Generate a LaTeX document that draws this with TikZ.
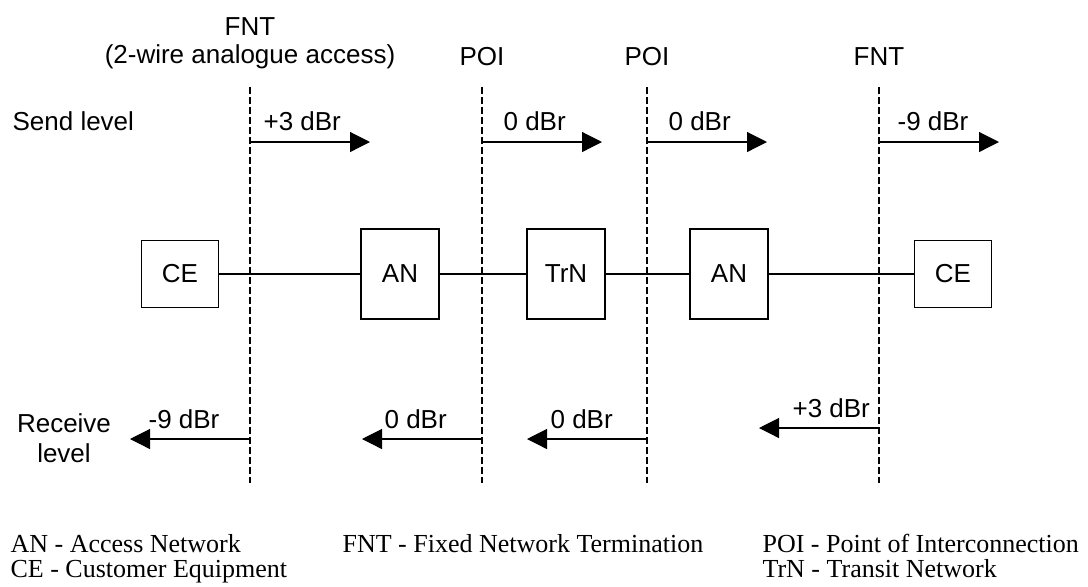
\documentclass[tikz,border=0pt]{standalone}
\usepackage{fontspec}
\setmainfont{Liberation Serif}
\newfontfamily\arialfont{Liberation Sans}
\usetikzlibrary{arrows.meta}

\begin{document}
\begin{tikzpicture}[x=0.5pt,y=-0.5pt,semithick,font=\arialfont\fontsize{13}{14}\selectfont,
  box/.style={draw,minimum width=39pt,minimum height=45pt,inner sep=0pt},
  cebox/.style={box,minimum width=38.5pt,minimum height=33.5pt},
  lbl/.style={inner sep=0pt,anchor=base west},
  ttl/.style={inner sep=0pt,anchor=base,align=center},
  lvl/.style={-{Triangle[length=10pt,width=10pt]}},
  refline/.style={dash pattern=on 3.5pt off 1.5pt},
  legend/.style={lbl,font=\rmfamily\fontsize{13}{14}\selectfont}]
\useasboundingbox (0,0) rectangle (1088,586);
\node[cebox](CEa)at(180,274){CE};
\node[box](ANa)at(400,274){AN};
\node[box](TrN)at(566,274){TrN};
\node[box](ANb)at(729,274){AN};
\node[cebox](CEb)at(953,274){CE};
\draw(CEa)--(ANa)--(TrN)--(ANb)--(CEb);

\foreach \n/\x/\y in {Fa/250/439,Pa/482/439,Pb/647/439,Fb/879/428}{
  \coordinate(\n t)at(\x,87);
  \coordinate(\n b)at(\x,483);
  \coordinate(\n s)at(\x,142);
  \coordinate(\n S)at(\x+120,142);
  \coordinate(\n r)at(\x,\y);
  \coordinate(\n R)at(\x-120,\y);
  \draw[refline](\n t)--(\n b);
  \draw[lvl](\n s)--(\n S);
  \draw[lvl](\n r)--(\n R);
}

\node[ttl](FNTa)at(250,63){FNT\\(2-wire analogue access)};
\node[ttl](POIa)at(482,65){POI};
\node[ttl](POIb)at(647,65){POI};
\node[ttl](FNTb)at(879,65){FNT};
\node[lbl](send)at(12,130){Send level};
\node[ttl,font=\arialfont\fontsize{13}{15}\selectfont](recv)at(64,462){Receive\\level};

\node[lbl](sa)at(263,130){+3 dBr};
\node[lbl](sb)at(503,130){0 dBr};
\node[lbl](sc)at(668,130){0 dBr};
\node[lbl](sd)at(897,130){-9 dBr};
\node[lbl](ra)at(148,428){-9 dBr};
\node[lbl](rb)at(384,428){0 dBr};
\node[lbl](rc)at(550,428){0 dBr};
\node[lbl](rd)at(792,417){+3 dBr};

\node[legend](lAN)at(10,552){AN - Access Network};
\node[legend](lCE)at(10,577){CE - Customer Equipment};
\node[legend](lFNT)at(342,552){FNT - Fixed Network Termination};
\node[legend](lPOI)at(762,552){POI - Point of Interconnection};
\node[legend](lTrN)at(762,577){TrN - Transit Network};
\end{tikzpicture}
\end{document}
